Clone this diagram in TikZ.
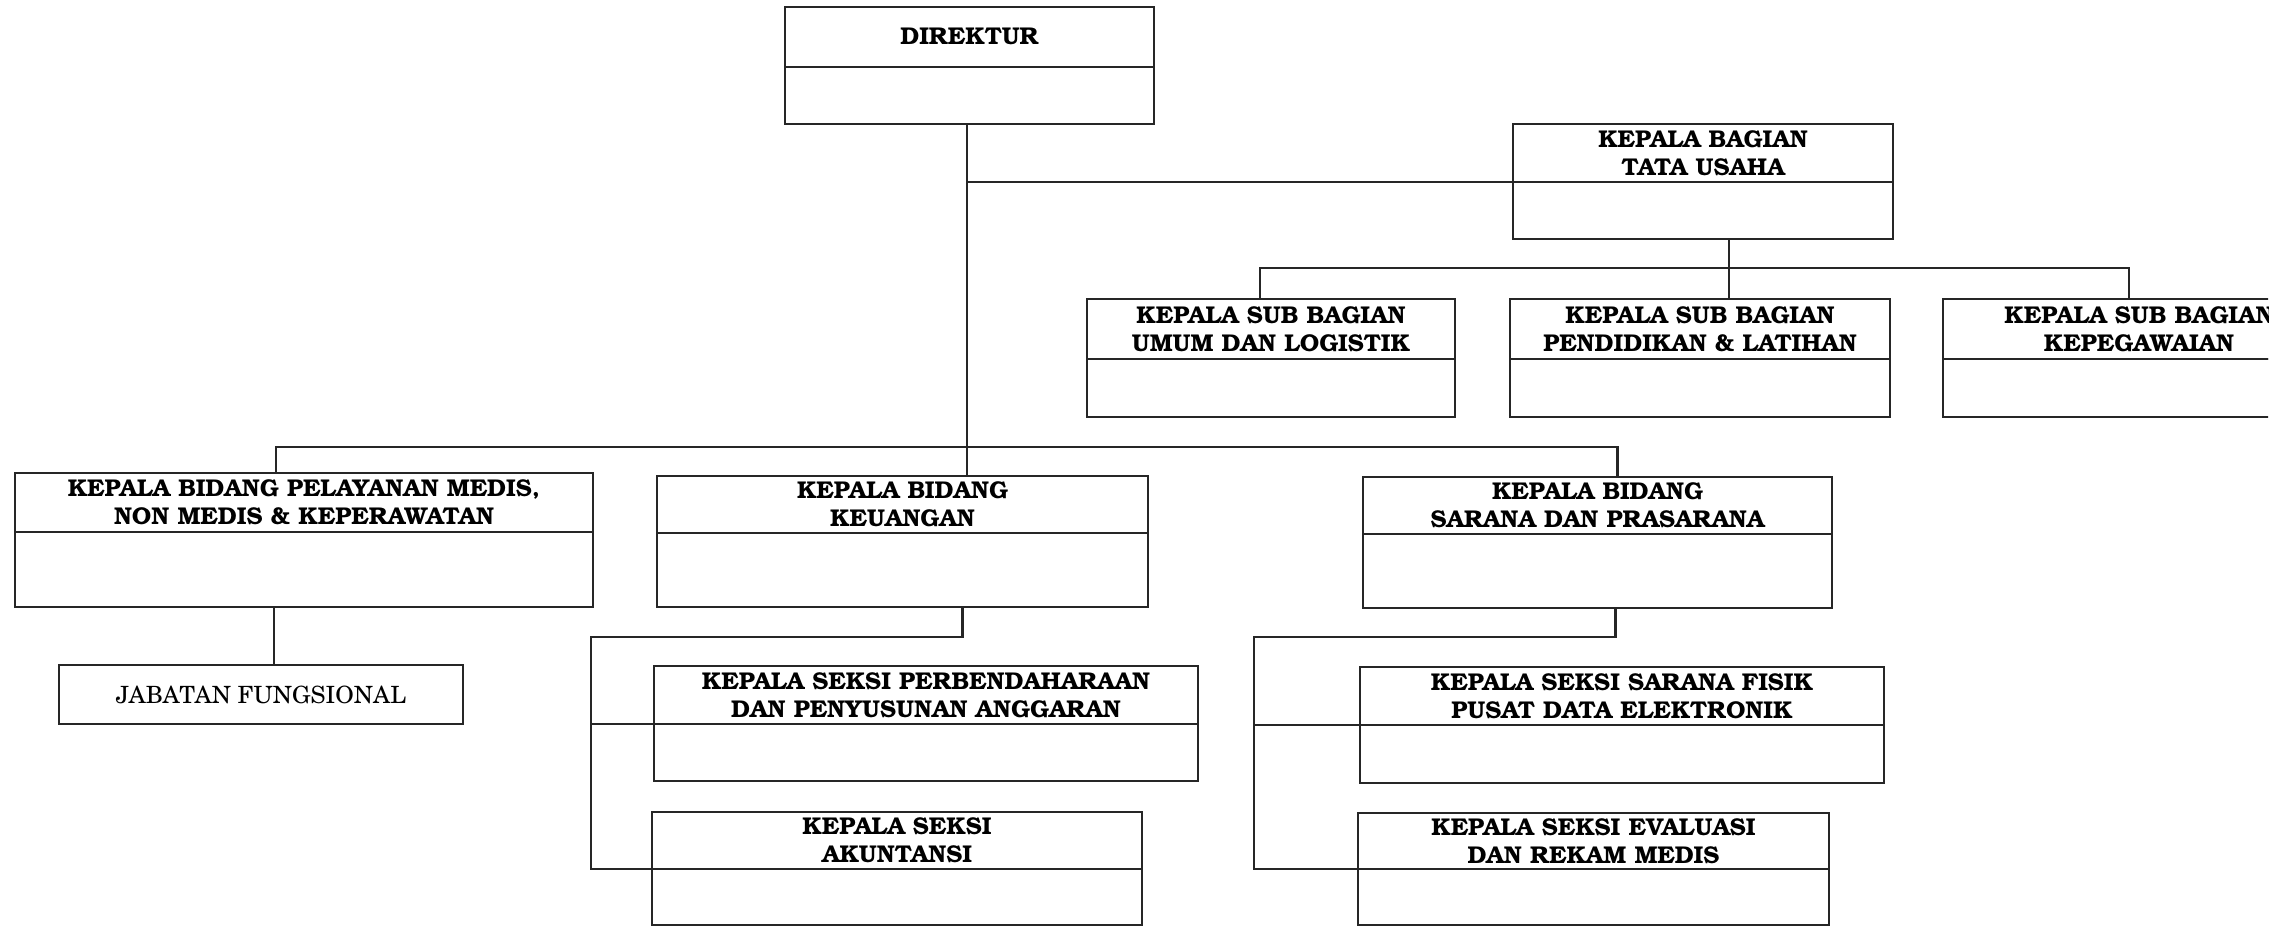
\documentclass[tikz,border=0pt]{standalone}
\usepackage[T1]{fontenc}
\usepackage{tikz}
\usetikzlibrary{positioning,calc}
\newcommand{\judul}{\fontfamily{pbk}\fontseries{b}\fontsize{6.9}{8}\selectfont}
\newcommand{\biasa}{\fontfamily{pnc}\fontseries{m}\fontsize{6.75}{8}\selectfont}

\begin{document}
\begin{tikzpicture}[x=0.01cm, y=-0.01cm, line width=0.7pt, black!85,
	kepala/.style={draw, inner sep=0pt, outer sep=0pt, align=center, font=\judul, text=black},
	isi/.style={draw, inner sep=0pt, outer sep=0pt, below=0pt of #1}]
	\useasboundingbox (0,0) rectangle (2277,926);
	\clip (0,0) rectangle (2268,926);

	% pimpinan
	\node[kepala, minimum width=3.69cm, minimum height=0.60cm] (dir) at (969.5,37) {DIREKTUR};
	\node[isi=dir, minimum width=3.69cm, minimum height=0.57cm] (dirb) {};
	\node[kepala, minimum width=3.80cm, minimum height=0.58cm] (tu) at (1703,153) {KEPALA BAGIAN\\TATA USAHA};
	\node[isi=tu, minimum width=3.80cm, minimum height=0.57cm] (tub) {};

	% sub bagian
	\node[kepala, minimum width=3.68cm, minimum height=0.60cm] (umum) at (1271,329) {KEPALA SUB BAGIAN\\UMUM DAN LOGISTIK};
	\node[isi=umum, minimum width=3.68cm, minimum height=0.58cm] (umumb) {};
	\node[kepala, minimum width=3.80cm, minimum height=0.60cm] (diklat) at (1700,329) {KEPALA SUB BAGIAN\\PENDIDIKAN \& LATIHAN};
	\node[isi=diklat, minimum width=3.80cm, minimum height=0.58cm] (diklatb) {};
	\node[kepala, minimum width=3.92cm, minimum height=0.60cm] (pegawai) at (2139,329) {KEPALA SUB BAGIAN\\KEPEGAWAIAN};
	\node[isi=pegawai, minimum width=3.92cm, minimum height=0.58cm] (pegawaib) {};

	% bidang
	\node[kepala, minimum width=5.78cm, minimum height=0.59cm] (pel) at (304,502.5) {KEPALA BIDANG PELAYANAN MEDIS,\\NON MEDIS \& KEPERAWATAN};
	\node[isi=pel, minimum width=5.78cm, minimum height=0.75cm] (pelb) {};
	\node[kepala, minimum width=4.91cm, minimum height=0.57cm] (keu) at (902.5,504.5) {KEPALA BIDANG\\KEUANGAN};
	\node[isi=keu, minimum width=4.91cm, minimum height=0.74cm] (keub) {};
	\node[kepala, minimum width=4.69cm, minimum height=0.57cm] (sar) at (1597.5,505.5) {KEPALA BIDANG\\SARANA DAN PRASARANA};
	\node[isi=sar, minimum width=4.69cm, minimum height=0.74cm] (sarb) {};

	% fungsional dan seksi
	\node[kepala, font=\biasa, minimum width=4.04cm, minimum height=0.59cm] (jab) at (261,694.5) {JABATAN FUNGSIONAL};
	\node[kepala, minimum width=5.44cm, minimum height=0.58cm] (perb) at (926,695) {KEPALA SEKSI PERBENDAHARAAN\\DAN PENYUSUNAN ANGGARAN};
	\node[isi=perb, minimum width=5.44cm, minimum height=0.57cm] (perbb) {};
	\node[kepala, minimum width=4.90cm, minimum height=0.57cm] (akun) at (897,840.5) {KEPALA SEKSI\\AKUNTANSI};
	\node[isi=akun, minimum width=4.90cm, minimum height=0.56cm] (akunb) {};
	\node[kepala, minimum width=5.24cm, minimum height=0.58cm] (fisik) at (1622,696) {KEPALA SEKSI SARANA FISIK\\PUSAT DATA ELEKTRONIK};
	\node[isi=fisik, minimum width=5.24cm, minimum height=0.58cm] (fisikb) {};
	\node[kepala, minimum width=4.71cm, minimum height=0.56cm] (eval) at (1593.5,841) {KEPALA SEKSI EVALUASI\\DAN REKAM MEDIS};
	\node[isi=eval, minimum width=4.71cm, minimum height=0.56cm] (evalb) {};

	% garis direktur
	\coordinate (jbid) at (967,447);
	\draw (dirb.south -| jbid) -- (keu.north -| jbid);
	\draw (jbid |- tu.south west) -- (tu.south west);

	% garis tata usaha
	\coordinate (jtu) at (1729,268);
	\draw (tub.south -| jtu) -- (diklat.north -| jtu);
	\draw ($(umum.north)+(-11,0)$) |- (jtu) -| ($(pegawai.north)+(-10,0)$);

	% garis bidang
	\draw ($(pel.north)+(-28,0)$) |- (jbid) -| ($(sar.north)+(20,0)$);
	\draw ($(pelb.south)+(-30,0)$) coordinate (jjab) -- (jjab |- jab.north);

	% garis seksi keuangan
	\coordinate (jkeu) at (591,637);
	\draw ($(keub.south)+(60,0)$) |- (jkeu) |- (akun.south west);
	\draw (jkeu |- perb.south west) -- (perb.south west);

	% garis seksi sarana
	\coordinate (jsar) at (1254,637);
	\draw ($(sarb.south)+(18,0)$) |- (jsar) |- (eval.south west);
	\draw (jsar |- fisik.south west) -- (fisik.south west);
\end{tikzpicture}
\end{document}
